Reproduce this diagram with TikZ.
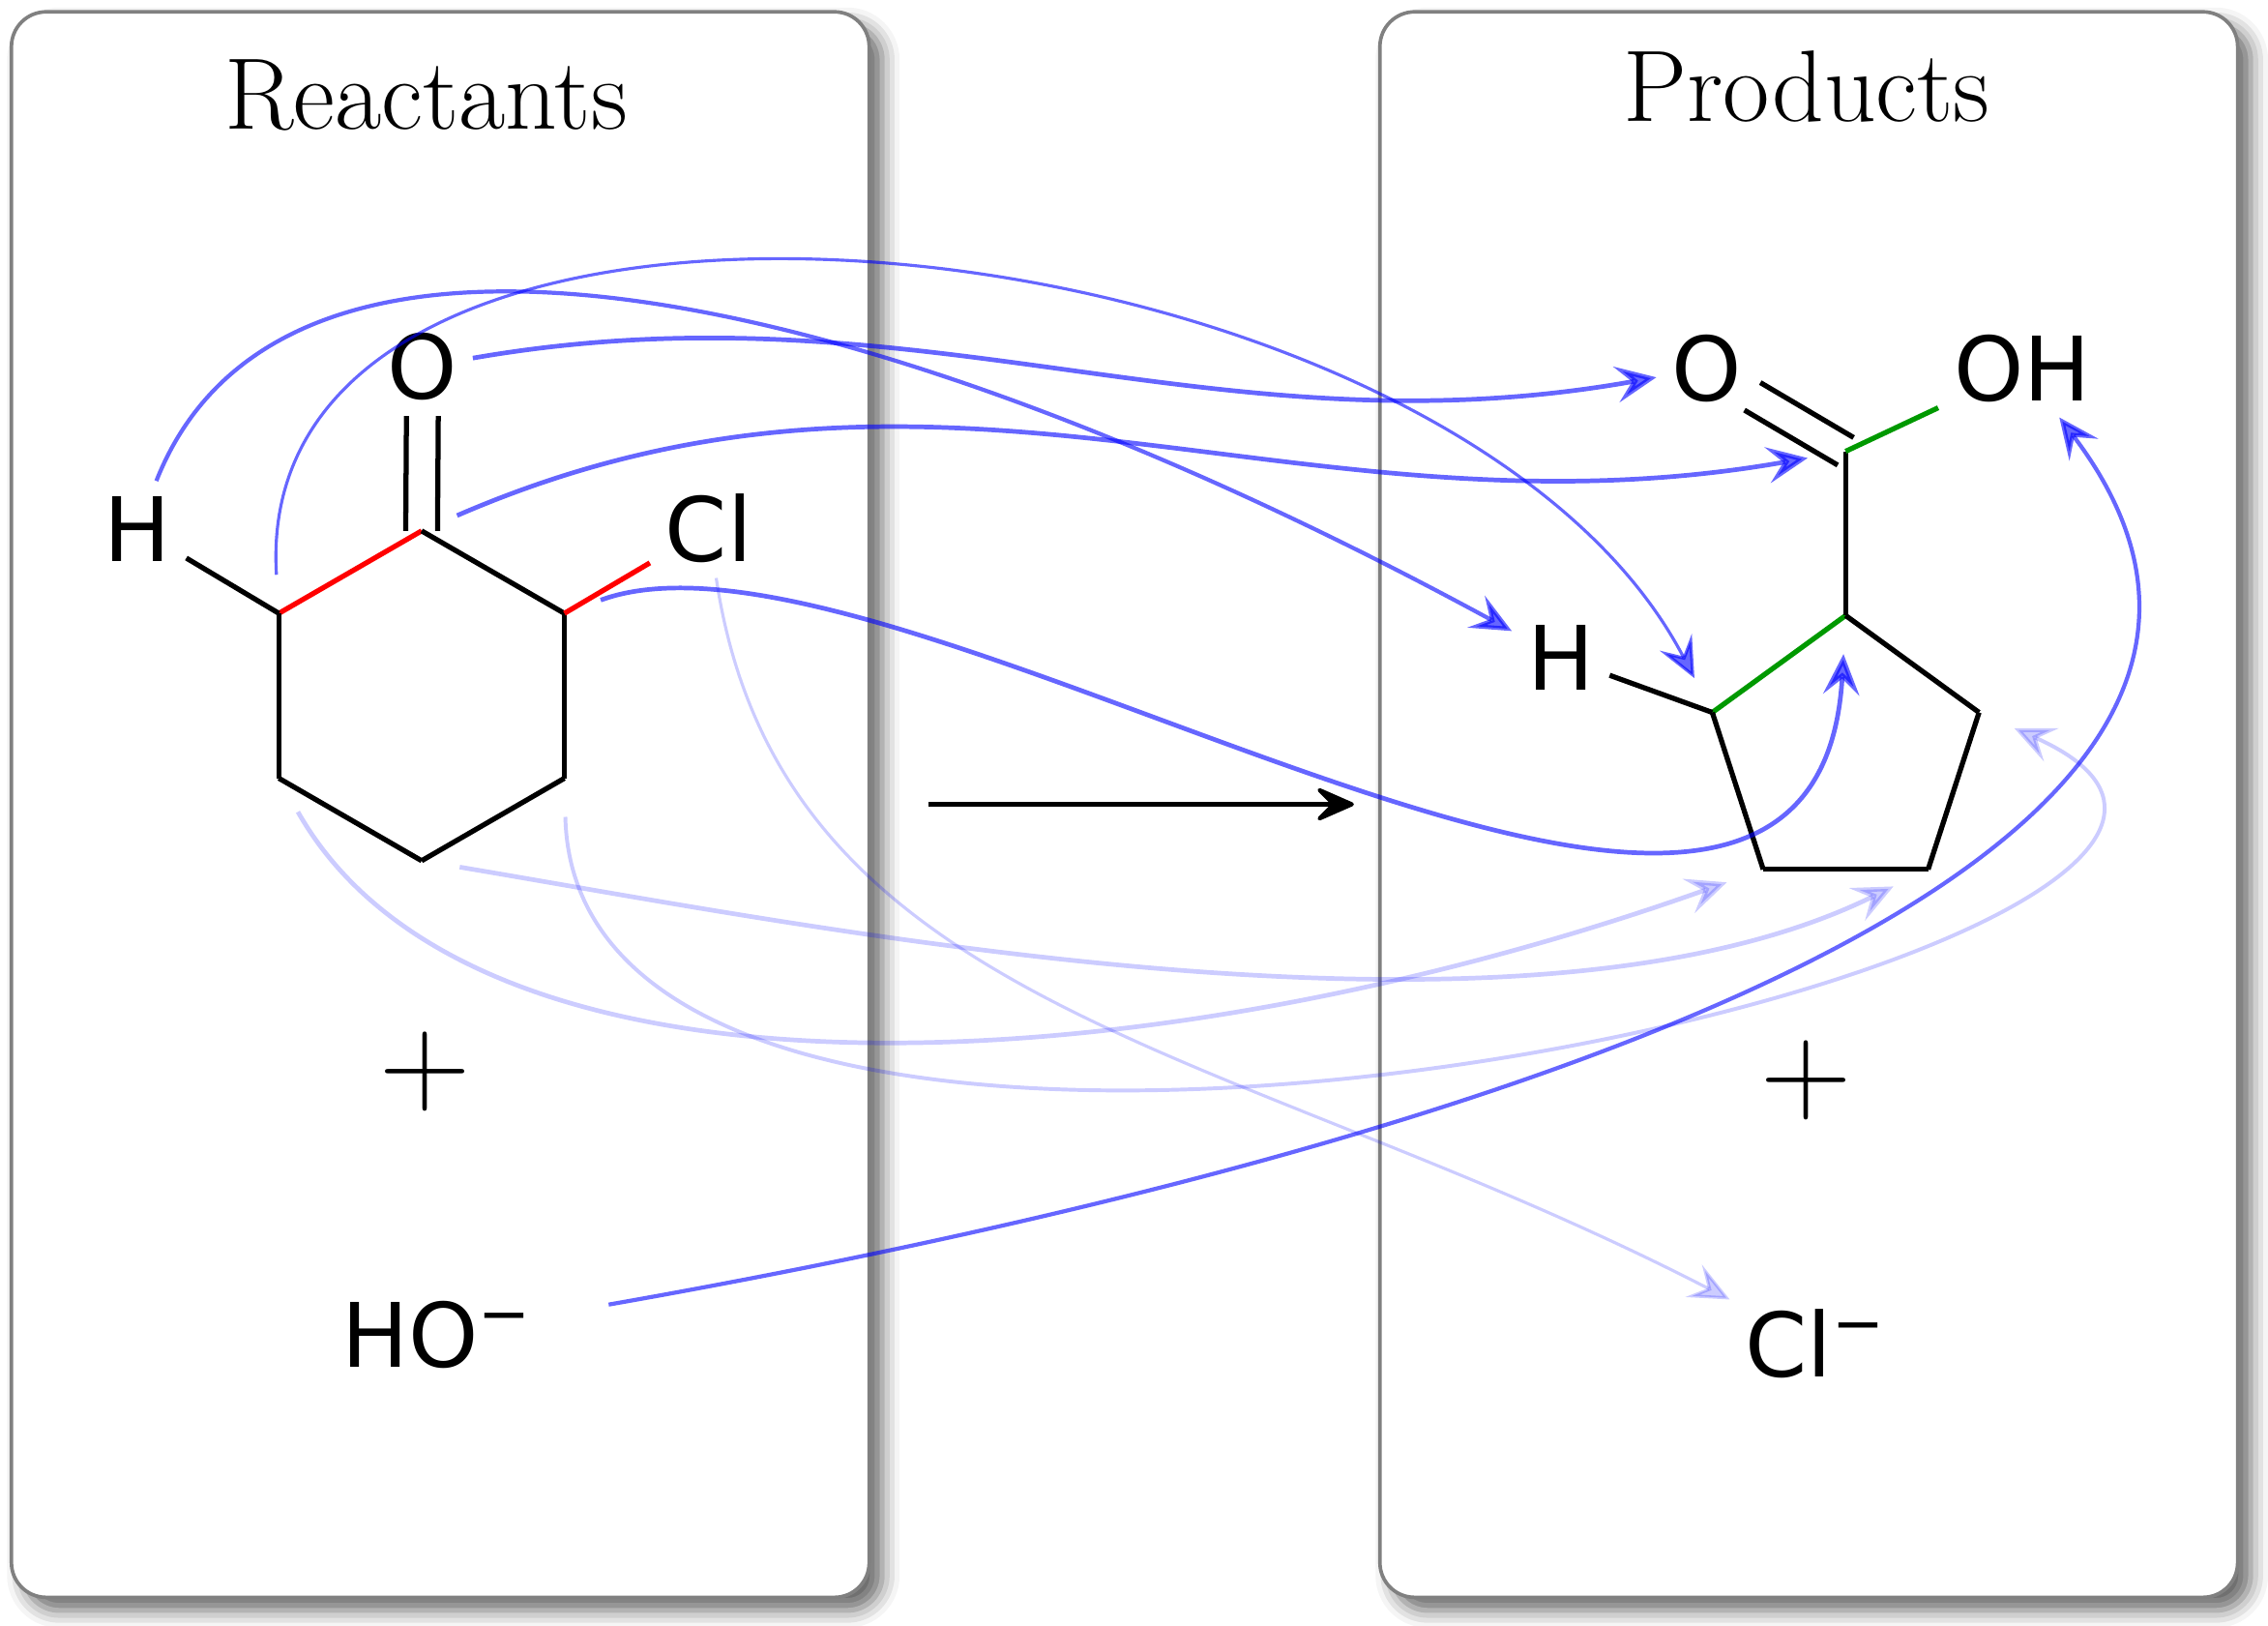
\documentclass[tikz,border=0pt]{standalone}
\usepackage{fontspec}
\newfontfamily\atomfont{DejaVu Sans}
\usetikzlibrary{arrows.meta,shadows.blur}

\tikzset{
  panel/.style={draw=gray, line width=0.7pt, fill=white, rounded corners=2.4mm,
    minimum width=5.93cm, minimum height=10.96cm,
    blur shadow={shadow xshift=0.9mm, shadow yshift=-0.9mm, shadow blur radius=1.2mm, shadow opacity=60}},
  title/.style={font=\fontsize{20}{24}\selectfont, anchor=base, inner sep=0pt},
  plus/.style={font=\fontsize{25}{30}\selectfont, inner sep=0pt},
  atom/.style={font=\atomfont\fontsize{17.5}{21}\selectfont, anchor=base, inner sep=1mm},
  cnode/.style={circle, inner sep=0pt, minimum size=5.2mm},
  bond/.style={line width=1pt},
  flow/.style={draw=blue, opacity=0.6, line width=0.9pt, -{Stealth[length=2.8mm,width=2.5mm,inset=1.1mm]}},
  faint/.style={flow, opacity=0.2},
}

\begin{document}
\begin{tikzpicture}
  \useasboundingbox (0,0) rectangle (15.68,-11.24);
  % Caixas
  \node[panel] (reac) at (3.044,-5.562) {};
  \node[panel] (prod) at (12.505,-5.562) {};
  \node[title] (reactitle) at (2.945,-0.896) {Reactants};
  \node[title] (prodtitle) at (12.49,-0.836) {Products};
  % Reagente: anel de seis carbonos
  \node[cnode] (l1) at (2.915,-3.67) {};
  \node[cnode] (l2) at (1.928,-4.24) {};
  \node[cnode] (l3) at (1.928,-5.38) {};
  \node[cnode] (l4) at (2.915,-5.95) {};
  \node[cnode] (l5) at (3.902,-5.38) {};
  \node[cnode] (l6) at (3.902,-4.24) {};
  \node[atom] (ol) at (2.92,-2.76) {O};
  \node[atom] (hl) at (0.95,-3.88) {H};
  \node[atom] (cll) at (4.90,-3.88) {Cl};
  \draw[bond, red] (l1.center) -- (l2.center);
  \draw[bond] (l2.center) -- (l3.center);
  \draw[bond] (l3.center) -- (l4.center);
  \draw[bond] (l4.center) -- (l5.center);
  \draw[bond] (l5.center) -- (l6.center);
  \draw[bond] (l6.center) -- (l1.center);
  \draw[bond] (l2.center) -- (hl);
  \draw[bond, red] (l6.center) -- (cll);
  \draw[bond] ([xshift=-1.1mm]l1.center) -- ([xshift=-1.1mm]ol.south);
  \draw[bond] ([xshift=1.1mm]l1.center) -- ([xshift=1.1mm]ol.south);
  % Reagente: ion
  \node[plus] (plusl) at (2.94,-7.41) {$+$};
  \node[atom] (hoion) at (3.025,-9.45) {HO\textsuperscript{−}};
  % Seta da reacao
  \coordinate (rs) at (6.42,-5.56);
  \coordinate (re) at (9.36,-5.56);
  \draw[line width=0.8pt, -{Stealth[length=3.2mm,width=2.8mm,inset=1.4mm,round]}] (rs) -- (re);
  % Produto: anel de cinco carbonos
  \node[cnode] (p1) at (12.76,-4.255) {};
  \node[cnode] (p2) at (11.838,-4.925) {};
  \node[cnode] (p3) at (12.19,-6.01) {};
  \node[cnode] (p4) at (13.33,-6.01) {};
  \node[cnode] (p5) at (13.682,-4.925) {};
  \node[cnode] (pc) at (12.76,-3.12) {};
  \node[atom] (or) at (11.80,-2.77) {O};
  \node[atom] (ohr) at (13.98,-2.77) {OH};
  \node[atom] (hr) at (10.79,-4.77) {H};
  \coordinate (oe) at (12.115,-2.74);
  \draw[bond, green!60!black] (p1.center) -- (p2.center);
  \draw[bond] (p2.center) -- (p3.center);
  \draw[bond] (p3.center) -- (p4.center);
  \draw[bond] (p4.center) -- (p5.center);
  \draw[bond] (p5.center) -- (p1.center);
  \draw[bond] (p1.center) -- (pc.center);
  \draw[bond] (p2.center) -- (hr);
  \draw[bond, green!60!black] (pc.center) -- (ohr);
  \draw[bond] ([shift={(60:1.1mm)}]pc.center) -- ([shift={(60:1.1mm)}]oe);
  \draw[bond] ([shift={(240:1.1mm)}]pc.center) -- ([shift={(240:1.1mm)}]oe);
  % Produto: ion
  \node[plus] (plusr) at (12.49,-7.47) {$+$};
  \node[atom] (clion) at (12.555,-9.52) {Cl\textsuperscript{−}};
  % Setas de atencao
  \draw[flow, line width=0.8pt] (hl) .. controls (2.00,-1.00) and (6.20,-2.05) .. (hr);
  \draw[flow, line width=0.6pt] (l2) .. controls (1.70,-0.60) and (10.00,-1.40) .. (p2);
  \draw[flow] (ol) .. controls (6.35,-1.94) and (8.37,-3.16) .. (or);
  \draw[flow] (l1) .. controls (6.54,-2.10) and (8.96,-3.79) .. (pc);
  \draw[flow] (l6) .. controls (6.20,-3.40) and (12.55,-8.00) .. (p1);
  \draw[flow, line width=0.8pt, shorten <=4.2mm] (hoion) .. controls (10.00,-8.00) and (16.60,-6.00) .. (ohr);
  \draw[faint] (l3) .. controls (3.30,-7.80) and (8.00,-7.50) .. (p3);
  \draw[faint] (l4) .. controls (5.60,-6.40) and (10.50,-7.40) .. (p4);
  \draw[faint, line width=0.75pt] (l5) .. controls (4.00,-9.50) and (17.20,-6.50) .. (p5);
  \draw[faint, line width=0.6pt] (cll) .. controls (5.40,-7.00) and (8.50,-7.20) .. (clion);
\end{tikzpicture}
\end{document}
